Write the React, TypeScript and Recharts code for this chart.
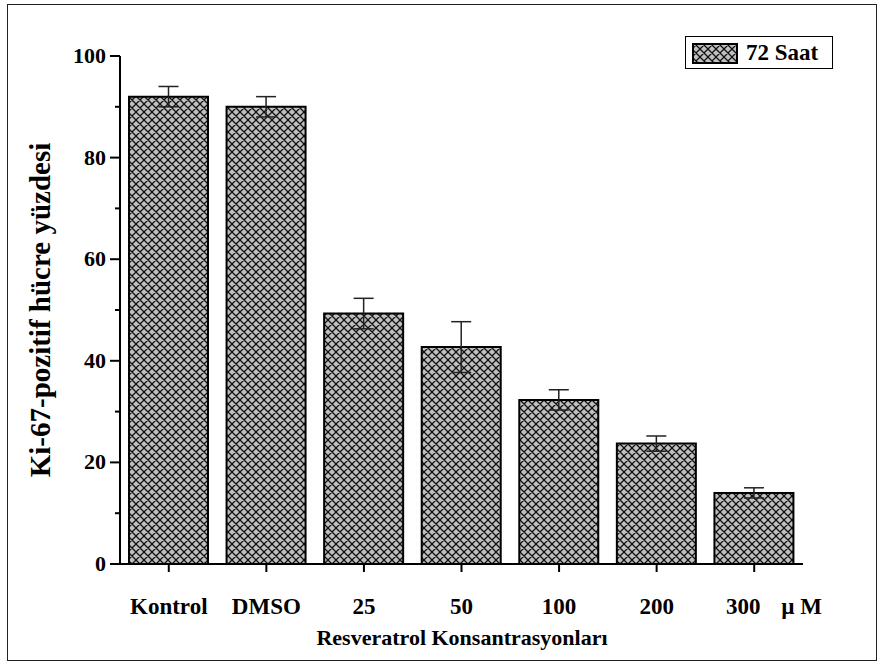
import { BarChart, Bar, XAxis, YAxis, ErrorBar, Legend, Label } from "recharts"

const FONT = '"Liberation Serif", "Times New Roman", serif'

// values (72 h)
const categories = ["Kontrol", "DMSO", "25", "50", "100", "200", "300"]
const values = [92, 90, 49.3, 42.7, 32.3, 23.7, 14]
const errors = [2, 2, 3, 5, 2, 1.5, 1]
const yTicks = [0, 10, 20, 30, 40, 50, 60, 70, 80, 90, 100]
const seriesName = "72 Saat"

const data = categories.map((name, i) => ({ name, value: values[i], err: errors[i] }))

function HatchDefs({ id }: { id: string }) {
  return (
    <defs>
      <pattern id={id} patternUnits="userSpaceOnUse" width={8} height={8}>
        <rect width={8} height={8} fill="#c0c0c0" />
        <path d="M-2,6 L2,10 M0,0 L8,8 M6,-2 L10,2 M-2,2 L2,-2 M0,8 L8,0 M6,10 L10,6" stroke="#111" strokeWidth={1.3} />
      </pattern>
    </defs>
  )
}

function YTick(props: any) {
  const { x, y, payload } = props
  const major = payload.value % 20 === 0
  return (
    <g>
      <line x1={x} x2={x - (major ? 10 : 5)} y1={y} y2={y} stroke="#000" strokeWidth={2} />
      {major && (
        <text x={x - 14} y={y} dy={7} textAnchor="end" fontSize={22} fontWeight="bold" fontFamily={FONT} fill="#000">
          {payload.value}
        </text>
      )}
    </g>
  )
}

function XTick(props: any) {
  const { x, y, payload, index } = props
  const last = index === categories.length - 1
  return (
    <g>
      <line x1={x} x2={x} y1={y} y2={y + 8} stroke="#000" strokeWidth={2} />
      {last ? (
        <>
          <text x={x - 11} y={y + 50} textAnchor="middle" fontSize={23} fontWeight="bold" fontFamily={FONT} fill="#000">
            {payload.value}
          </text>
          <text x={x + 27} y={y + 50} textAnchor="start" fontSize={23} fontWeight="bold" fontFamily={FONT} fill="#000">
            {"\u00b5 M"}
          </text>
        </>
      ) : (
        <text x={x} y={y + 50} textAnchor="middle" fontSize={23} fontWeight="bold" fontFamily={FONT} fill="#000">
          {payload.value}
        </text>
      )}
    </g>
  )
}

function LegendBox() {
  return (
    <div
      style={{
        width: 146,
        height: 31,
        border: "1px solid #000",
        background: "#fff",
        display: "flex",
        alignItems: "center",
        fontFamily: FONT,
        fontWeight: "bold",
        fontSize: 23,
        color: "#000",
        boxSizing: "content-box",
      }}
    >
      <svg width={54} height={24} style={{ marginLeft: 6 }}>
        <HatchDefs id="hatchLegend" />
        <rect x={1} y={3} width={44} height={19} fill="url(#hatchLegend)" stroke="#000" strokeWidth={2} />
      </svg>
      <span style={{ marginLeft: 0 }}>{seriesName}</span>
    </div>
  )
}

export default function App() {
  return (
    <div style={{ position: "absolute", left: 0, top: 0, width: 881, height: 665, background: "#fff" }}>
      <div
        style={{
          position: "absolute",
          left: 7,
          top: 4,
          width: 868,
          height: 655,
          border: "1px solid #222",
        }}
      />
      <BarChart width={881} height={665} data={data} margin={{ top: 56, right: 78, bottom: 0, left: 0 }}>
        <HatchDefs id="hatchBar" />
        <YAxis
          width={120}
          domain={[0, 100]}
          ticks={yTicks}
          interval={0}
          tickSize={0}
          tickMargin={0}
          tickLine={false}
          axisLine={{ stroke: "#000", strokeWidth: 2 }}
          tick={<YTick />}
        >
          <Label
            content={() => (
              <text
                x={40}
                y={310}
                transform="rotate(-90 40 310)"
                textAnchor="middle"
                dominantBaseline="central"
                fontSize={29}
                fontWeight="bold"
                fontFamily={FONT}
                fill="#000"
              >
                Ki-67-pozitif hücre yüzdesi
              </text>
            )}
          />
        </YAxis>
        <XAxis
          dataKey="name"
          height={101}
          interval={0}
          tickSize={0}
          tickMargin={0}
          tickLine={false}
          axisLine={{ stroke: "#000", strokeWidth: 2 }}
          tick={<XTick />}
        >
          <Label
            content={() => (
              <text x={462} y={645} textAnchor="middle" fontSize={22} fontWeight="bold" fontFamily={FONT} fill="#000">
                Resveratrol Konsantrasyonları
              </text>
            )}
          />
        </XAxis>
        <Legend
          layout="horizontal"
          verticalAlign="middle"
          align="center"
          wrapperStyle={{ top: 36, left: 685, width: 148, height: 33 }}
          content={() => <LegendBox />}
        />
        <Bar
          dataKey="value"
          name={seriesName}
          barSize={79}
          fill="url(#hatchBar)"
          stroke="#000"
          strokeWidth={2}
          isAnimationActive={false}
        >
          <ErrorBar dataKey="err" width={10} stroke="#222" strokeWidth={1.5} />
        </Bar>
      </BarChart>
    </div>
  )
}
